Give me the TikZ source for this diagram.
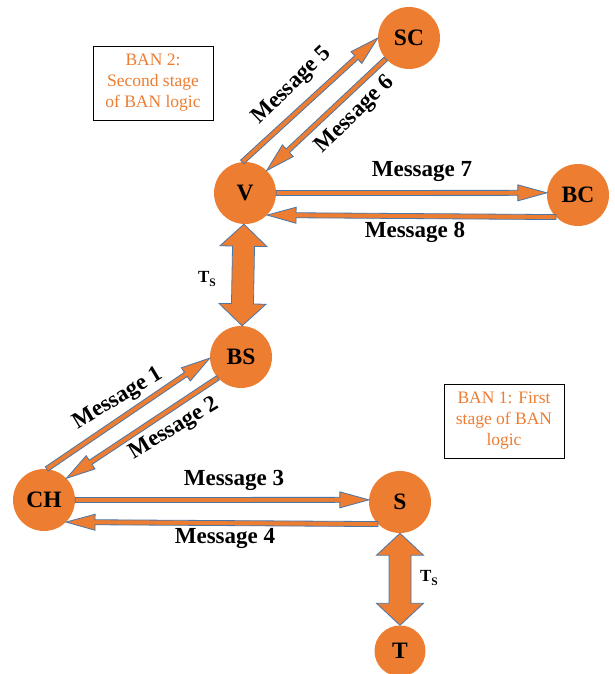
\documentclass[tikz,border=0pt]{standalone}
\usepackage{fontspec}
\setmainfont{Liberation Serif}
\usetikzlibrary{calc}

\definecolor{nodeorange}{HTML}{ED7D31}
\definecolor{arrowedge}{HTML}{4A76A8}

\tikzset{
  station/.style={circle, fill=nodeorange, minimum size=62pt, inner sep=0pt,
    font=\bfseries\fontsize{23.5}{27}\selectfont},
  msglabel/.style={font=\bfseries\fontsize{23}{27}\selectfont, inner sep=0pt},
  tslabel/.style={font=\bfseries\fontsize{17}{19}\selectfont, inner sep=0pt},
  arrowbody/.style={fill=nodeorange, draw=arrowedge, line width=0.8pt, line join=miter},
  stagebox/.style={draw=black, line width=0.9pt, minimum width=120pt, minimum height=74pt,
    align=center, text=nodeorange, font=\fontsize{17.5}{21}\selectfont, inner sep=0pt}
}

% slim block arrow from #1 to the tip #2
\newcommand\thinarrow[2]{%
  \path (#1) coordinate (arS) (#2) coordinate (arT);
  \path ($(arT)!29pt!(arS)$) coordinate (arB);
  \filldraw[arrowbody]
    ($(arS)!2.5pt!90:(arT)$) -- ($(arB)!2.5pt!90:(arT)$) -- ($(arB)!8pt!90:(arT)$) -- (arT)
    -- ($(arB)!8pt!-90:(arT)$) -- ($(arB)!2.5pt!-90:(arT)$) -- ($(arS)!2.5pt!-90:(arT)$) -- cycle;
}

% wide two-headed block arrow between the tips #1 and #2
\newcommand\fatarrow[2]{%
  \path (#1) coordinate (faA) (#2) coordinate (faB);
  \path ($(faA)!22pt!(faB)$) coordinate (faa) ($(faB)!22pt!(faA)$) coordinate (fab);
  \filldraw[arrowbody] (faA)
    -- ($(faa)!23.5pt!90:(faB)$) -- ($(faa)!11pt!90:(faB)$)
    -- ($(fab)!11pt!-90:(faA)$) -- ($(fab)!23.5pt!-90:(faA)$)
    -- (faB)
    -- ($(fab)!23.5pt!90:(faA)$) -- ($(fab)!11pt!90:(faA)$)
    -- ($(faa)!11pt!-90:(faB)$) -- ($(faa)!23.5pt!-90:(faB)$) -- cycle;
}

\begin{document}
\begin{tikzpicture}[x=1pt, y=-1pt]
  \useasboundingbox (0,0) rectangle (615,674);
  \fill[white] (0,0) rectangle (615,674);

  % stations
  \node[station] (SC) at (409,38)  {SC};
  \node[station] (V)  at (245,193) {V};
  \node[station] (BC) at (578,195) {BC};
  \node[station] (BS) at (241,357) {BS};
  \node[station] (CH) at (44,500)  {CH};
  \node[station] (S)  at (400,502) {S};
  \node[station, minimum size=51pt] (T) at (400,651) {T};

  % stage notes
  \node[stagebox] (ban2) at (153,83)  {BAN 2:\\Second stage\\of BAN logic};
  \node[stagebox] (ban1) at (504,421) {BAN 1: First\\stage of BAN\\logic};

  % message arrows
  \thinarrow{CH.85}{BS.182}
  \thinarrow{BS.222}{CH.44}
  \thinarrow{CH.east}{S.176}
  \thinarrow{S.225}{CH.315}
  \thinarrow{V.95}{SC.west}
  \thinarrow{SC.222}{V.46}
  \thinarrow{V.east}{BC.176}
  \thinarrow{BC.225}{V.315}

  % time-stamp links
  \fatarrow{V.268}{BS.88}
  \fatarrow{S.south}{T.north}

  % labels
  \node[msglabel, rotate=31] (m1) at (118,399) {Message 1};
  \node[msglabel, rotate=31] (m2) at (174,429) {Message 2};
  \node[msglabel] (m3) at (234,480) {Message 3};
  \node[msglabel] (m4) at (225,538) {Message 4};
  \node[msglabel, rotate=44] (m5) at (292,86)  {Message 5};
  \node[msglabel, rotate=44] (m6) at (355,115) {Message 6};
  \node[msglabel] (m7) at (422,172) {Message 7};
  \node[msglabel] (m8) at (415,232) {Message 8};

  \node[tslabel] (ts1) at (207,279) {T\raisebox{-4pt}{\fontsize{11.5}{12}\selectfont S}};
  \node[tslabel] (ts2) at (429,578) {T\raisebox{-4pt}{\fontsize{11.5}{12}\selectfont S}};
\end{tikzpicture}
\end{document}
